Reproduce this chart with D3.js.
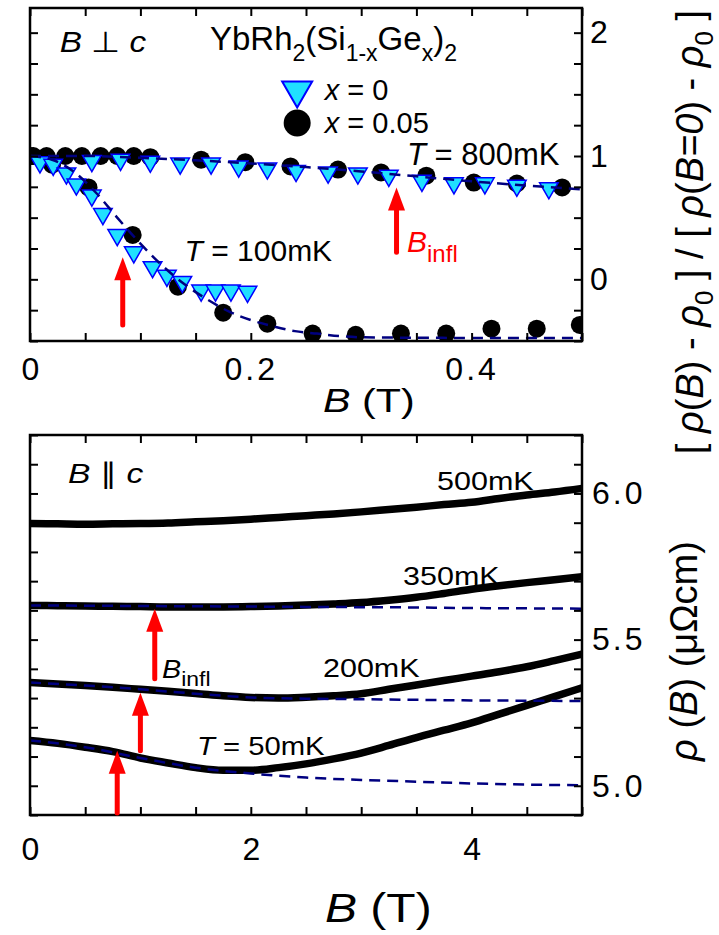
<!DOCTYPE html>
<html>
<head>
<meta charset="utf-8">
<script src="https://cdn.jsdelivr.net/npm/d3@7"></script>
<style>
  body { margin: 0; background: #fff; }
  text { font-family: "Liberation Sans", Arial, Helvetica, sans-serif; white-space: pre; }
</style>
</head>
<body>
<div id="chart"></div>
<script>
// ---------- data: top panel (B perp c), normalised [rho(B)-rho0]/[rho(0)-rho0] ----------
const topXTicks = [0, 0.2, 0.4]
const topYTicks = [0, 1, 2]
// x = 0.05 (black circles)
const dot800 = [[0.000,1.0],[0.015,1.0],[0.032,1.0],[0.047,1.0],[0.064,1.0],[0.079,1.0],[0.094,1.0],[0.109,0.99],
  [0.155,0.97],[0.195,0.95],[0.236,0.915],[0.279,0.89],[0.318,0.867],[0.359,0.84],[0.402,0.785],[0.441,0.777],[0.482,0.745]]
const dot100 = [[0.003,1.0],[0.020,0.93],[0.053,0.745],[0.093,0.36],[0.134,-0.06],[0.175,-0.27],[0.215,-0.36],
  [0.256,-0.44],[0.295,-0.45],[0.336,-0.44],[0.377,-0.44],[0.418,-0.40],[0.459,-0.40],[0.498,-0.37]]
// x = 0 (cyan triangles)
const tri800 = [[0.056,0.96],[0.082,0.97],[0.109,0.955],[0.136,0.94],[0.164,0.94],[0.189,0.915],[0.215,0.90],[0.241,0.88],
  [0.270,0.867],[0.297,0.86],[0.325,0.84],[0.355,0.80],[0.384,0.78],[0.412,0.78],[0.441,0.76],[0.470,0.74]]
const tri100 = [[0.009,0.95],[0.021,0.93],[0.033,0.86],[0.042,0.77],[0.056,0.68],[0.066,0.53],[0.079,0.36],[0.094,0.22],
  [0.111,0.10],[0.124,0.03],[0.138,-0.02],[0.155,-0.09],[0.168,-0.09],[0.182,-0.09],[0.197,-0.10]]
// fits (dashed)
const fit800 = [[0,1.0],[0.05,1.0],[0.1,0.985],[0.15,0.965],[0.2,0.94],[0.25,0.91],[0.3,0.875],[0.35,0.835],[0.4,0.795],[0.45,0.76],[0.5,0.73]]
const fit100 = [[0,1.0],[0.02,0.97],[0.04,0.87],[0.06,0.70],[0.08,0.49],[0.1,0.29],[0.12,0.11],[0.14,-0.04],[0.16,-0.16],
  [0.18,-0.26],[0.2,-0.33],[0.22,-0.38],[0.24,-0.42],[0.26,-0.44],[0.28,-0.46],[0.3,-0.47],[0.4,-0.475],[0.5,-0.475]]
// B_infl arrows: [B, tail value, tip value]
const topArrows = [[0.084,-0.37,0.18],[0.332,0.22,0.745]]

// ---------- data: bottom panel (B || c), rho(B) in micro-ohm cm ----------
const botXTicks = [0, 2, 4]
const botYTicks = [5.0, 5.5, 6.0]
const fieldB = [0,0.25,0.5,0.75,1,1.25,1.5,1.75,2,2.25,2.5,2.75,3,3.25,3.5,3.75,4,4.25,4.5,4.75,5]
const rho500 = [5.897,5.896,5.895,5.896,5.897,5.899,5.903,5.907,5.912,5.918,5.924,5.930,5.937,5.945,5.953,5.962,5.970,5.983,5.995,6.005,6.017]
const rho350 = [5.617,5.616,5.615,5.614,5.613,5.612,5.612,5.612,5.613,5.615,5.618,5.622,5.627,5.635,5.645,5.658,5.672,5.684,5.695,5.705,5.715]
const rho200 = [5.353,5.348,5.343,5.337,5.330,5.323,5.316,5.308,5.302,5.300,5.303,5.308,5.315,5.330,5.345,5.360,5.375,5.390,5.407,5.428,5.450]
const rho50  = [5.155,5.145,5.132,5.117,5.095,5.078,5.062,5.053,5.053,5.062,5.075,5.092,5.112,5.138,5.165,5.190,5.215,5.245,5.275,5.305,5.335]
const fitB   = [0,0.5,1,1.5,2,2.5,3,3.5,4,4.5,5]
const fit350 = [5.617,5.616,5.615,5.614,5.613,5.612,5.611,5.610,5.608,5.607,5.606]
const fit200 = [5.353,5.343,5.330,5.315,5.302,5.298,5.296,5.294,5.292,5.291,5.290]
const fit50  = [5.155,5.132,5.095,5.062,5.042,5.028,5.020,5.014,5.008,5.004,5.002]
const botArrows = [[1.13,5.366,5.606],[1.0,5.12,5.318],[0.79,4.907,5.12]]

// ---------- chart ----------
const WIDTH = 719, HEIGHT = 935
const svg = d3.select("#chart").append("svg").attr("width", WIDTH).attr("height", HEIGHT)

const xTop = d3.scaleLinear().domain([0, 0.5]).range([30, 582])
const yTop = d3.scaleLinear().domain([-0.5, 2.2]).range([341, 8])
const xBot = d3.scaleLinear().domain([0, 5]).range([30, 582])
const yBot = d3.scaleLinear().domain([4.9, 6.2]).range([815, 435])

const NAVY = "#000080", RED = "#ff0000", CYAN = "#20e0ff", BLUE = "#0000ff"

// frame, inward ticks on all sides, labels on bottom and right
function frame(g, x, y, xMinor, yMinor, xLab, yLab, fx, fy, padX, padY) {
  const [x0, x1] = x.range(), [y0, y1] = y.range()
  g.append("g").attr("transform", `translate(0,${y0})`).call(d3.axisBottom(x).tickValues(xMinor).tickSize(-8).tickFormat(""))
  g.append("g").attr("transform", `translate(0,${y1})`).call(d3.axisTop(x).tickValues(xMinor).tickSize(-8).tickFormat(""))
  g.append("g").attr("transform", `translate(${x0},0)`).call(d3.axisLeft(y).tickValues(yMinor).tickSize(-8).tickFormat(""))
  g.append("g").attr("transform", `translate(${x1},0)`).call(d3.axisRight(y).tickValues(yMinor).tickSize(-8).tickFormat(""))
  g.append("g").attr("class", "lab").attr("transform", `translate(0,${y0})`)
    .call(d3.axisBottom(x).tickValues(xLab).tickSize(0).tickPadding(padX).tickFormat(fx))
  g.append("g").attr("class", "lab").attr("transform", `translate(${x1},0)`)
    .call(d3.axisRight(y).tickValues(yLab).tickSize(0).tickPadding(padY).tickFormat(fy))
  g.selectAll(".domain").remove()
  g.selectAll(".tick line").attr("stroke", "#000").attr("stroke-width", 2)
  g.selectAll(".lab text").attr("font-size", 32).attr("fill", "#000")
    .attr("font-family", '"Liberation Sans", Arial, sans-serif')
    .filter(function() { return this.textContent.includes(".") }).attr("letter-spacing", 3)
  g.append("rect").attr("x", x0).attr("y", y1).attr("width", x1 - x0).attr("height", y0 - y1)
    .attr("fill", "none").attr("stroke", "#000").attr("stroke-width", 2.5)
}

// text with italic / subscript parts
function label(g, x, y, parts, o) {
  const t = g.append("text")
    .attr("transform", o.rot ? `translate(${x},${y}) rotate(-90)` : `translate(${x},${y}) scale(${o.sx || 1},1)`)
    .attr("font-size", o.size).attr("fill", o.color || "#000").attr("text-anchor", o.anchor || "start")
  let shift = 0
  parts.forEach(p => {
    const [s, k] = Array.isArray(p) ? p : [p, ""]
    const down = k.includes("s") ? (o.shift || o.size * 0.3) : 0
    const sp = t.append("tspan").text(s).attr("dy", down - shift)
    shift = down
    if (k.includes("s")) sp.attr("font-size", o.sub || o.size * 0.7)
    if (k.includes("i")) sp.attr("font-style", "italic")
  })
  return t
}

function arrows(g, data, x, y) {
  data.forEach(([b, v0, v1]) => {
    const px = x(b), yt = y(v1), yb = y(v0)
    g.append("line").attr("x1", px).attr("x2", px).attr("y1", yb).attr("y2", yt + 20)
      .attr("stroke", RED).attr("stroke-width", 5).attr("stroke-linecap", "round")
    g.append("path").attr("d", `M${px},${yt} L${px - 8.5},${yt + 23} L${px + 8.5},${yt + 23} Z`).attr("fill", RED)
  })
}

const defs = svg.append("defs")
defs.append("clipPath").attr("id", "clipTop").append("rect").attr("x", 30).attr("y", 8).attr("width", 552).attr("height", 333)
defs.append("clipPath").attr("id", "clipBot").append("rect").attr("x", 30).attr("y", 435).attr("width", 552).attr("height", 380)

// ----- top panel -----
const gTop = svg.append("g")
const pTop = gTop.append("g").attr("clip-path", "url(#clipTop)")
const triSym = d3.symbol().type(d3.symbolTriangle)

pTop.selectAll(".dot").data(dot800.concat(dot100)).enter().append("circle")
  .attr("cx", d => xTop(d[0])).attr("cy", d => yTop(d[1])).attr("r", 9).attr("fill", "#000")
pTop.selectAll(".tri").data(tri800.concat(tri100)).enter().append("path")
  .attr("d", triSym.size(150)())
  .attr("transform", d => `translate(${xTop(d[0])},${yTop(d[1])}) rotate(180)`)
  .attr("fill", CYAN).attr("stroke", BLUE).attr("stroke-width", 1.5)

const lineTop = d3.line().x(d => xTop(d[0])).y(d => yTop(d[1])).curve(d3.curveMonotoneX)
;[fit800, fit100].forEach(f => pTop.append("path").attr("d", lineTop(f)).attr("fill", "none")
  .attr("stroke", NAVY).attr("stroke-width", 2.5).attr("stroke-dasharray", "11,7"))

frame(gTop, xTop, yTop, d3.range(0, 0.5001, 0.05), d3.range(-0.5, 2.2001, 0.25), topXTicks, topYTicks,
  d => d === 0 ? "0" : d3.format(".1f")(d), d3.format("d"), 16, 8)

arrows(gTop, topArrows, xTop, yTop)

label(gTop, xTop(0.027), yTop(1.84), [["B", "i"], " \u22A5 ", ["c", "i"]], { size: 29, sx: 1.15 })
label(gTop, xTop(0.163), yTop(1.86), ["YbRh", ["2", "s"], "(Si", ["1-x", "s"], "Ge", ["x", "s"], ")", ["2", "s"]],
  { size: 33, sub: 23, shift: 11 })
gTop.append("path").attr("d", triSym.size(390)())
  .attr("transform", `translate(${xTop(0.242)},${yTop(1.534)}) rotate(180)`)
  .attr("fill", CYAN).attr("stroke", BLUE).attr("stroke-width", 2)
gTop.append("circle").attr("cx", xTop(0.242)).attr("cy", yTop(1.267)).attr("r", 13.5).attr("fill", "#000")
label(gTop, xTop(0.267), yTop(1.454), [["x", "i"], " = 0"], { size: 29 })
label(gTop, xTop(0.267), yTop(1.186), [["x", "i"], " = 0.05"], { size: 29 })
label(gTop, xTop(0.3415), yTop(0.927), [["T", "i"], " = 800mK"], { size: 31 })
label(gTop, xTop(0.140), yTop(0.149), [["T", "i"], " = 100mK"], { size: 30 })
label(gTop, xTop(0.3415), yTop(0.221), [["B", "i"], ["infl", "s"]], { size: 30, sub: 24, shift: 10, color: RED })
label(gTop, 323, 412, [["B", "i"], " (T)"], { size: 33, sx: 1.25 })

// ----- bottom panel -----
const gBot = svg.append("g")
const pBot = gBot.append("g").attr("clip-path", "url(#clipBot)")
const lineBot = d3.line().x(d => xBot(d[0])).y(d => yBot(d[1])).curve(d3.curveMonotoneX)

;[rho500, rho350, rho200, rho50].forEach(r => pBot.append("path")
  .attr("d", lineBot(fieldB.map((b, i) => [b, r[i]])))
  .attr("fill", "none").attr("stroke", "#000").attr("stroke-width", 7.5).attr("stroke-linecap", "round"))
;[fit350, fit200, fit50].forEach(r => pBot.append("path")
  .attr("d", lineBot(fitB.map((b, i) => [b, r[i]])))
  .attr("fill", "none").attr("stroke", NAVY).attr("stroke-width", 2.5).attr("stroke-dasharray", "11,7"))

frame(gBot, xBot, yBot, d3.range(0, 5.001, 0.5), d3.range(4.9, 6.2001, 0.1), botXTicks, botYTicks,
  d3.format("d"), d3.format(".1f"), 22, 10)

arrows(gBot, botArrows, xBot, yBot)

label(gBot, xBot(0.344), yBot(6.036), [["B", "i"], " \u2225 ", ["c", "i"]], { size: 28, sx: 1.2 })
label(gBot, xBot(3.687), yBot(6.012), ["500mK"], { size: 25, sx: 1.22 })
label(gBot, xBot(3.379), yBot(5.687), ["350mK"], { size: 25, sx: 1.22 })
label(gBot, xBot(2.654), yBot(5.372), ["200mK"], { size: 25, sx: 1.22 })
label(gBot, xBot(1.513), yBot(5.105), [["T", "i"], " = 50mK"], { size: 25, sx: 1.17 })
label(gBot, xBot(1.196), yBot(5.369), [["B", "i"], ["infl", "s"]], { size: 25, sub: 20, shift: 8, sx: 1.15 })
label(gBot, 325, 922, [["B", "i"], " (T)"], { size: 40, sx: 1.2 })

// ----- right-hand axis titles -----
label(svg, 703, 232, ["[ ", ["\u03C1", "i"], "(", ["B", "i"], ") - ", ["\u03C1", "i"], ["0", "s"], " ] / [ ",
  ["\u03C1", "i"], "(", ["B=0", "i"], ") - ", ["\u03C1", "i"], ["0", "s"], " ]"],
  { size: 38, sub: 26, shift: 10, rot: true, anchor: "middle" })
label(svg, 697, 651, [["\u03C1", "i"], " (", ["B", "i"], ") (\u03BC\u03A9cm)"], { size: 38, rot: true, anchor: "middle" })
</script>
</body>
</html>
